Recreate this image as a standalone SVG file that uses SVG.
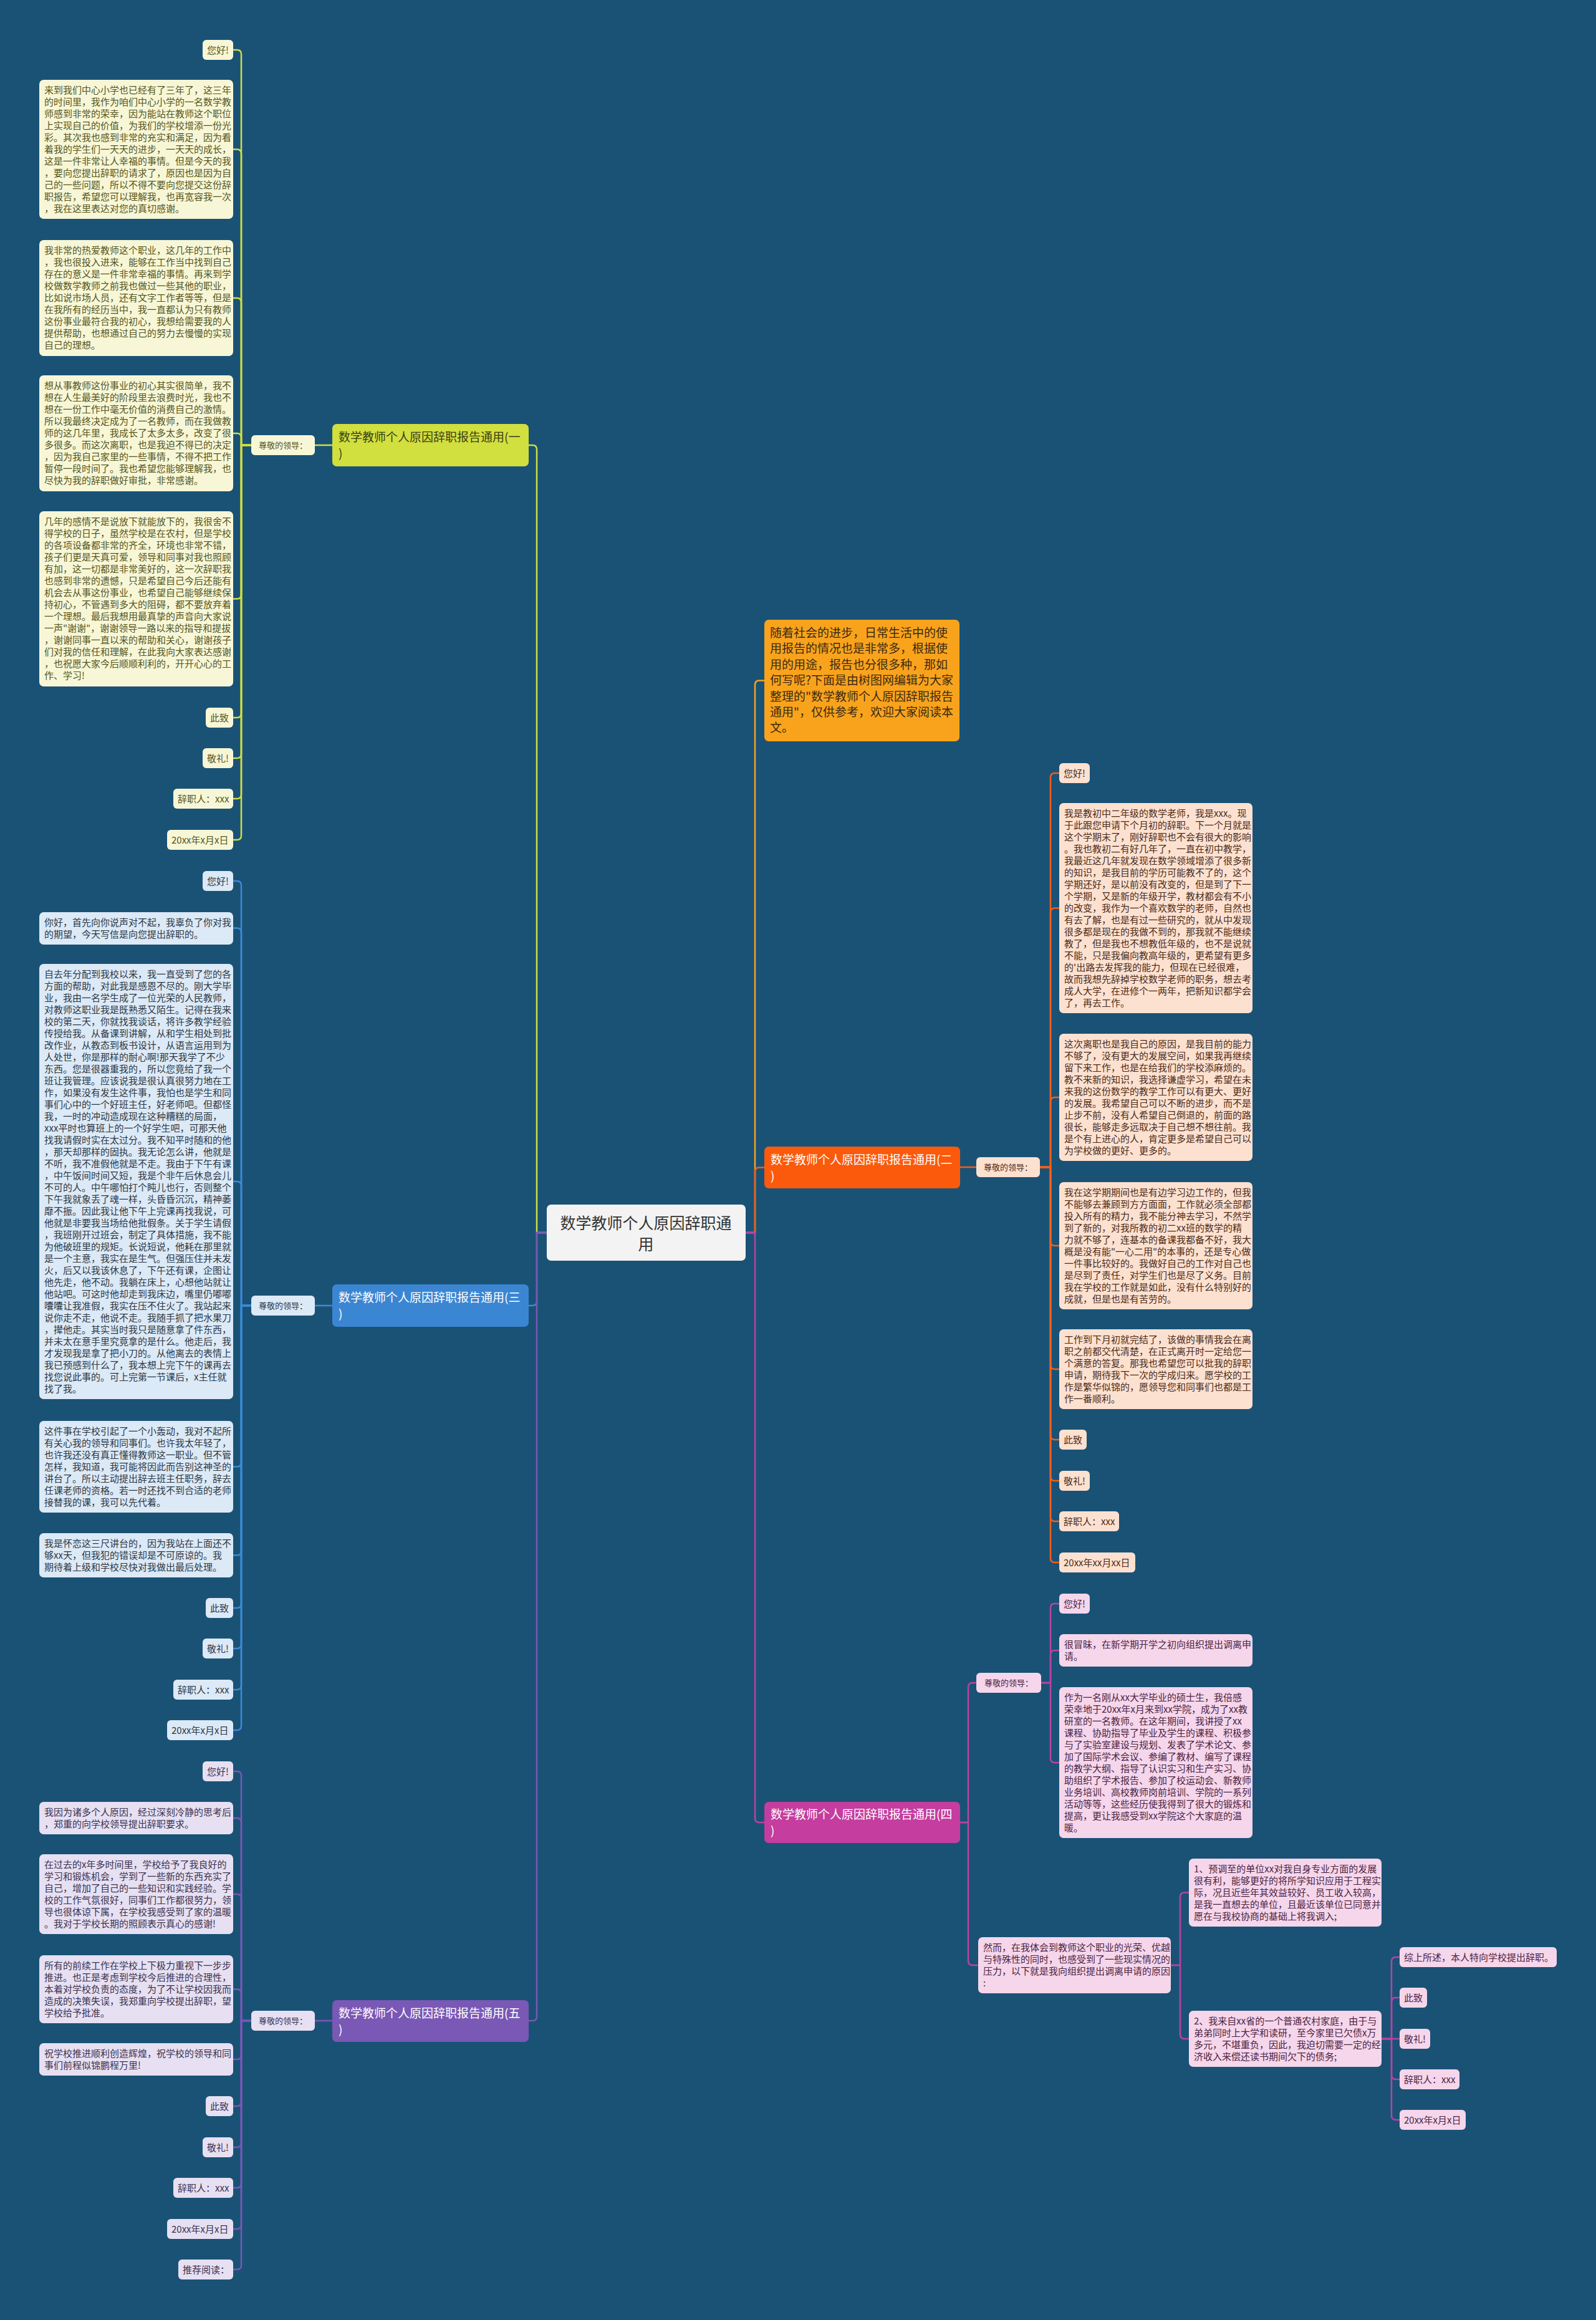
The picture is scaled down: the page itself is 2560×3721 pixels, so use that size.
<svg xmlns="http://www.w3.org/2000/svg" width="2560" height="3721" viewBox="0 0 2560 3721">
<style>
text{font-family:"Noto Sans CJK SC","Noto Sans",sans-serif}
.t{font-size:15px}
.s{font-size:13px;text-anchor:middle}
.h{font-size:19px}
.c{font-size:25px;text-anchor:middle;fill:#333}
.y rect{fill:#f7f7d7}.y text{fill:#55541c}
.b rect{fill:#dce9f6}.b text{fill:#2b3744}
.p rect{fill:#e6e0f2}.p text{fill:#3a3150}
.o rect{fill:#fde1d0}.o text{fill:#4a2a18}
.m rect{fill:#f5d6eb}.m text{fill:#4b2240}
#connectors path{fill:none;stroke-width:2.5}
.ly{stroke:#d1df3f}.lb{stroke:#3d8ad6}.lp{stroke:#7a58b5}.lo{stroke:#f9a31d}.lr{stroke:#f35f18}.lm{stroke:#b843a3}
</style>
<rect width="2560" height="3721" fill="#1a5276"/>
<g id="connectors">
<path class="ly" d="M877 1977H861V721Q861 714 854 714H848"/>
<path class="lb" d="M877 1977H861V2087Q861 2094 854 2094H848"/>
<path class="lp" d="M877 1977H861V3234Q861 3241 854 3241H848"/>
<path class="lo" d="M1196 1977H1211V1098.5Q1211 1091.5 1218 1091.5H1226"/>
<path class="lr" d="M1196 1977H1211V1879.5Q1211 1872.5 1218 1872.5H1226"/>
<path class="lm" d="M1196 1977H1211V2916Q1211 2923 1218 2923H1226"/>
<path class="ly" d="M533 714H505"/>
<path class="ly" d="M403 714H387V87Q387 80 380 80H374"/>
<path class="ly" d="M403 714H387V246.5Q387 239.5 380 239.5H374"/>
<path class="ly" d="M403 714H387V485Q387 478 380 478H374"/>
<path class="ly" d="M403 714H387V702Q387 695 380 695H374"/>
<path class="ly" d="M403 714H387V953.5Q387 960.5 380 960.5H374"/>
<path class="ly" d="M403 714H387V1144Q387 1151 380 1151H374"/>
<path class="ly" d="M403 714H387V1209Q387 1216 380 1216H374"/>
<path class="ly" d="M403 714H387V1274Q387 1281 380 1281H374"/>
<path class="ly" d="M403 714H387V1340Q387 1347 380 1347H374"/>
<path class="lb" d="M533 2094H505"/>
<path class="lb" d="M403 2094H387V1420Q387 1413 380 1413H374"/>
<path class="lb" d="M403 2094H387V1495.5Q387 1488.5 380 1488.5H374"/>
<path class="lb" d="M403 2094H387V1902Q387 1895 380 1895H374"/>
<path class="lb" d="M403 2094H387V2345.5Q387 2352.5 380 2352.5H374"/>
<path class="lb" d="M403 2094H387V2487.5Q387 2494.5 380 2494.5H374"/>
<path class="lb" d="M403 2094H387V2572Q387 2579 380 2579H374"/>
<path class="lb" d="M403 2094H387V2637Q387 2644 380 2644H374"/>
<path class="lb" d="M403 2094H387V2703Q387 2710 380 2710H374"/>
<path class="lb" d="M403 2094H387V2768Q387 2775 380 2775H374"/>
<path class="lp" d="M533 3241H505"/>
<path class="lp" d="M403 3241H387V2848Q387 2841 380 2841H374"/>
<path class="lp" d="M403 3241H387V2923Q387 2916 380 2916H374"/>
<path class="lp" d="M403 3241H387V3045Q387 3038 380 3038H374"/>
<path class="lp" d="M403 3241H387V3197.5Q387 3190.5 380 3190.5H374"/>
<path class="lp" d="M403 3241H387V3296Q387 3303 380 3303H374"/>
<path class="lp" d="M403 3241H387V3371Q387 3378 380 3378H374"/>
<path class="lp" d="M403 3241H387V3437Q387 3444 380 3444H374"/>
<path class="lp" d="M403 3241H387V3502Q387 3509 380 3509H374"/>
<path class="lp" d="M403 3241H387V3568Q387 3575 380 3575H374"/>
<path class="lp" d="M403 3241H387V3633Q387 3640 380 3640H374"/>
<path class="lr" d="M1540 1872H1566"/>
<path class="lr" d="M1668 1872H1685V1247Q1685 1240 1692 1240H1699"/>
<path class="lr" d="M1668 1872H1685V1463.5Q1685 1456.5 1692 1456.5H1699"/>
<path class="lr" d="M1668 1872H1685V1767Q1685 1760 1692 1760H1699"/>
<path class="lr" d="M1668 1872H1685V1991Q1685 1998 1692 1998H1699"/>
<path class="lr" d="M1668 1872H1685V2189Q1685 2196 1692 2196H1699"/>
<path class="lr" d="M1668 1872H1685V2302Q1685 2309 1692 2309H1699"/>
<path class="lr" d="M1668 1872H1685V2368Q1685 2375 1692 2375H1699"/>
<path class="lr" d="M1668 1872H1685V2433Q1685 2440 1692 2440H1699"/>
<path class="lr" d="M1668 1872H1685V2499Q1685 2506 1692 2506H1699"/>
<path class="lm" d="M1540 2923H1553V2706Q1553 2699 1560 2699H1566"/>
<path class="lm" d="M1540 2923H1553V3145Q1553 3152 1560 3152H1569"/>
<path class="lm" d="M1670 2699H1685V2579Q1685 2572 1692 2572H1699"/>
<path class="lm" d="M1670 2699H1685V2654Q1685 2647 1692 2647H1699"/>
<path class="lm" d="M1670 2699H1685V2820Q1685 2827 1692 2827H1699"/>
<path class="lm" d="M1878 3152H1893V3042.5Q1893 3035.5 1900 3035.5H1907"/>
<path class="lm" d="M1878 3152H1893V3263Q1893 3270 1900 3270H1907"/>
<path class="lm" d="M2216 3270H2232V3146Q2232 3139 2239 3139H2245"/>
<path class="lm" d="M2216 3270H2232V3211Q2232 3204 2239 3204H2245"/>
<path class="lm" d="M2216 3270H2245"/>
<path class="lm" d="M2216 3270H2232V3328Q2232 3335 2239 3335H2245"/>
<path class="lm" d="M2216 3270H2232V3393Q2232 3400 2239 3400H2245"/>
</g>

<g id="center"><rect x="877" y="1932" width="319" height="90" rx="7" fill="#f3f3f3"/><text class="c" x="1036" y="1971">数学教师个人原因辞职通</text><text class="c" x="1036" y="2005">用</text></g>

<g id="branch1"><rect x="533" y="680" width="315" height="68" rx="7" fill="#d1df3f"/><text class="h" fill="#3c3d10" x="543" y="708">数学教师个人原因辞职报告通用(一<tspan x="543" dy="26">)</tspan></text></g>
<g id="branch3"><rect x="533" y="2060" width="315" height="68" rx="7" fill="#3b86d3"/><text class="h" fill="#fff" x="543" y="2088">数学教师个人原因辞职报告通用(三<tspan x="543" dy="26">)</tspan></text></g>
<g id="branch5"><rect x="533" y="3208" width="315" height="67" rx="7" fill="#7a58b5"/><text class="h" fill="#fff" x="543" y="3236">数学教师个人原因辞职报告通用(五<tspan x="543" dy="26">)</tspan></text></g>
<g id="intro"><rect x="1226" y="994" width="313" height="195" rx="7" fill="#f9a31d"/><text class="h" fill="#3b2a10" x="1235" y="1022">随着社会的进步，日常生活中的使<tspan x="1235" dy="25.4">用报告的情况也是非常多，根据使</tspan><tspan x="1235" dy="25.4">用的用途，报告也分很多种，那如</tspan><tspan x="1235" dy="25.4">何写呢?下面是由树图网编辑为大家</tspan><tspan x="1235" dy="25.4">整理的"数学教师个人原因辞职报告</tspan><tspan x="1235" dy="25.4">通用"，仅供参考，欢迎大家阅读本</tspan><tspan x="1235" dy="25.4">文。</tspan></text></g>
<g id="branch2"><rect x="1226" y="1839" width="314" height="67" rx="7" fill="#fb5a0c"/><text class="h" fill="#fff" x="1236" y="1867">数学教师个人原因辞职报告通用(二<tspan x="1236" dy="26">)</tspan></text></g>
<g id="branch4"><rect x="1226" y="2890" width="314" height="66" rx="7" fill="#c43d9f"/><text class="h" fill="#fff" x="1236" y="2917">数学教师个人原因辞职报告通用(四<tspan x="1236" dy="26">)</tspan></text></g>

<g class="y">
<g id="b1-lead"><rect x="403" y="698" width="102" height="32" rx="6"/><text class="s" x="454" y="719">尊敬的领导：</text></g>
<g id="b1-hello"><rect x="325" y="64" width="49" height="32" rx="6"/><text class="t" x="332" y="85.5">您好!</text></g>
<g id="b1-p1"><rect x="63" y="128" width="311" height="223" rx="7"/><text class="t" x="71" y="150">来到我们中心小学也已经有了三年了，这三年<tspan x="71" dy="19">的时间里，我作为咱们中心小学的一名数学教</tspan><tspan x="71" dy="19">师感到非常的荣幸，因为能站在教师这个职位</tspan><tspan x="71" dy="19">上实现自己的价值，为我们的学校增添一份光</tspan><tspan x="71" dy="19">彩。其次我也感到非常的充实和满足，因为看</tspan><tspan x="71" dy="19">着我的学生们一天天的进步，一天天的成长，</tspan><tspan x="71" dy="19">这是一件非常让人幸福的事情。但是今天的我</tspan><tspan x="71" dy="19">，要向您提出辞职的请求了，原因也是因为自</tspan><tspan x="71" dy="19">己的一些问题，所以不得不要向您提交这份辞</tspan><tspan x="71" dy="19">职报告，希望您可以理解我，也再宽容我一次</tspan><tspan x="71" dy="19">，我在这里表达对您的真切感谢。</tspan></text></g>
<g id="b1-p2"><rect x="63" y="385" width="311" height="186" rx="7"/><text class="t" x="71" y="407">我非常的热爱教师这个职业，这几年的工作中<tspan x="71" dy="19">，我也很投入进来，能够在工作当中找到自己</tspan><tspan x="71" dy="19">存在的意义是一件非常幸福的事情。再来到学</tspan><tspan x="71" dy="19">校做数学教师之前我也做过一些其他的职业，</tspan><tspan x="71" dy="19">比如说市场人员，还有文字工作者等等，但是</tspan><tspan x="71" dy="19">在我所有的经历当中，我一直都认为只有教师</tspan><tspan x="71" dy="19">这份事业最符合我的初心，我想给需要我的人</tspan><tspan x="71" dy="19">提供帮助，也想通过自己的努力去慢慢的实现</tspan><tspan x="71" dy="19">自己的理想。</tspan></text></g>
<g id="b1-p3"><rect x="63" y="602" width="311" height="186" rx="7"/><text class="t" x="71" y="624">想从事教师这份事业的初心其实很简单，我不<tspan x="71" dy="19">想在人生最美好的阶段里去浪费时光，我也不</tspan><tspan x="71" dy="19">想在一份工作中毫无价值的消费自己的激情。</tspan><tspan x="71" dy="19">所以我最终决定成为了一名教师，而在我做教</tspan><tspan x="71" dy="19">师的这几年里，我成长了太多太多，改变了很</tspan><tspan x="71" dy="19">多很多。而这次离职，也是我迫不得已的决定</tspan><tspan x="71" dy="19">，因为我自己家里的一些事情，不得不把工作</tspan><tspan x="71" dy="19">暂停一段时间了。我也希望您能够理解我，也</tspan><tspan x="71" dy="19">尽快为我的辞职做好审批，非常感谢。</tspan></text></g>
<g id="b1-p4"><rect x="63" y="820" width="311" height="281" rx="7"/><text class="t" x="71" y="842">几年的感情不是说放下就能放下的，我很舍不<tspan x="71" dy="19">得学校的日子，虽然学校是在农村，但是学校</tspan><tspan x="71" dy="19">的各项设备都非常的齐全，环境也非常不错，</tspan><tspan x="71" dy="19">孩子们更是天真可爱，领导和同事对我也照顾</tspan><tspan x="71" dy="19">有加，这一切都是非常美好的，这一次辞职我</tspan><tspan x="71" dy="19">也感到非常的遗憾，只是希望自己今后还能有</tspan><tspan x="71" dy="19">机会去从事这份事业，也希望自己能够继续保</tspan><tspan x="71" dy="19">持初心，不管遇到多大的阻碍，都不要放弃着</tspan><tspan x="71" dy="19">一个理想。最后我想用最真挚的声音向大家说</tspan><tspan x="71" dy="19">一声"谢谢"，谢谢领导一路以来的指导和提拔</tspan><tspan x="71" dy="19">，谢谢同事一直以来的帮助和关心，谢谢孩子</tspan><tspan x="71" dy="19">们对我的信任和理解，在此我向大家表达感谢</tspan><tspan x="71" dy="19">，也祝愿大家今后顺顺利利的，开开心心的工</tspan><tspan x="71" dy="19">作、学习!</tspan></text></g>
<g id="b1-zhi"><rect x="330" y="1135" width="44" height="32" rx="6"/><text class="t" x="337" y="1156.5">此致</text></g>
<g id="b1-li"><rect x="325" y="1200" width="49" height="32" rx="6"/><text class="t" x="332" y="1221.5">敬礼!</text></g>
<g id="b1-name"><rect x="278" y="1265" width="96" height="32" rx="6"/><text class="t" x="285" y="1286.5">辞职人：xxx</text></g>
<g id="b1-date"><rect x="268" y="1331" width="106" height="32" rx="6"/><text class="t" x="275" y="1352.5">20xx年x月x日</text></g>
</g>

<g class="b">
<g id="b3-lead"><rect x="403" y="2078" width="102" height="32" rx="6"/><text class="s" x="454" y="2099">尊敬的领导：</text></g>
<g id="b3-hello"><rect x="325" y="1397" width="49" height="32" rx="6"/><text class="t" x="332" y="1418.5">您好!</text></g>
<g id="b3-p1"><rect x="63" y="1463" width="311" height="52" rx="7"/><text class="t" x="71" y="1485">你好，首先向你说声对不起，我辜负了你对我<tspan x="71" dy="19">的期望，今天写信是向您提出辞职的。</tspan></text></g>
<g id="b3-p2"><rect x="63" y="1546" width="311" height="698" rx="7"/><text class="t" x="71" y="1568">自去年分配到我校以来，我一直受到了您的各<tspan x="71" dy="19">方面的帮助，对此我是感恩不尽的。刚大学毕</tspan><tspan x="71" dy="19">业，我由一名学生成了一位光荣的人民教师，</tspan><tspan x="71" dy="19">对教师这职业我是既熟悉又陌生。记得在我来</tspan><tspan x="71" dy="19">校的第二天，你就找我谈话，将许多教学经验</tspan><tspan x="71" dy="19">传授给我。从备课到讲解，从和学生相处到批</tspan><tspan x="71" dy="19">改作业，从教态到板书设计，从语言运用到为</tspan><tspan x="71" dy="19">人处世，你是那样的耐心啊!那天我学了不少</tspan><tspan x="71" dy="19">东西。您是很器重我的，所以您竟给了我一个</tspan><tspan x="71" dy="19">班让我管理。应该说我是很认真很努力地在工</tspan><tspan x="71" dy="19">作，如果没有发生这件事，我怕也是学生和同</tspan><tspan x="71" dy="19">事们心中的一个好班主任，好老师吧。但都怪</tspan><tspan x="71" dy="19">我，一时的冲动造成现在这种糟糕的局面，</tspan><tspan x="71" dy="19">xxx平时也算班上的一个好学生吧，可那天他</tspan><tspan x="71" dy="19">找我请假时实在太过分。我不知平时随和的他</tspan><tspan x="71" dy="19">，那天却那样的固执。我无论怎么讲，他就是</tspan><tspan x="71" dy="19">不听，我不准假他就是不走。我由于下午有课</tspan><tspan x="71" dy="19">，中午饭间时间又短，我是个非午后休息会儿</tspan><tspan x="71" dy="19">不可的人。中午哪怕打个盹儿也行，否则整个</tspan><tspan x="71" dy="19">下午我就象丢了魂一样，头昏昏沉沉，精神萎</tspan><tspan x="71" dy="19">靡不振。因此我让他下午上完课再找我说，可</tspan><tspan x="71" dy="19">他就是非要我当场给他批假条。关于学生请假</tspan><tspan x="71" dy="19">，我班刚开过班会，制定了具体措施，我不能</tspan><tspan x="71" dy="19">为他破班里的规矩。长说短说，他耗在那里就</tspan><tspan x="71" dy="19">是一个主意，我实在是生气。但强压住并未发</tspan><tspan x="71" dy="19">火，后又以我该休息了，下午还有课，企图让</tspan><tspan x="71" dy="19">他先走，他不动。我躺在床上，心想他站就让</tspan><tspan x="71" dy="19">他站吧。可这时他却走到我床边，嘴里仍嘟嘟</tspan><tspan x="71" dy="19">囔囔让我准假，我实在压不住火了。我站起来</tspan><tspan x="71" dy="19">说你走不走，他说不走。我随手抓了把水果刀</tspan><tspan x="71" dy="19">，撵他走。其实当时我只是随意拿了件东西，</tspan><tspan x="71" dy="19">并未太在意手里究竟拿的是什么。他走后，我</tspan><tspan x="71" dy="19">才发现我是拿了把小刀的。从他离去的表情上</tspan><tspan x="71" dy="19">我已预感到什么了，我本想上完下午的课再去</tspan><tspan x="71" dy="19">找您说此事的。可上完第一节课后，x主任就</tspan><tspan x="71" dy="19">找了我。</tspan></text></g>
<g id="b3-p3"><rect x="63" y="2279" width="311" height="147" rx="7"/><text class="t" x="71" y="2301">这件事在学校引起了一个小轰动，我对不起所<tspan x="71" dy="19">有关心我的领导和同事们。也许我太年轻了，</tspan><tspan x="71" dy="19">也许我还没有真正懂得教师这一职业。但不管</tspan><tspan x="71" dy="19">怎样，我知道，我可能将因此而告别这神圣的</tspan><tspan x="71" dy="19">讲台了。所以主动提出辞去班主任职务，辞去</tspan><tspan x="71" dy="19">任课老师的资格。若一时还找不到合适的老师</tspan><tspan x="71" dy="19">接替我的课，我可以先代着。</tspan></text></g>
<g id="b3-p4"><rect x="63" y="2459" width="311" height="71" rx="7"/><text class="t" x="71" y="2481">我是怀恋这三尺讲台的，因为我站在上面还不<tspan x="71" dy="19">够xx天，但我犯的错误却是不可原谅的。我</tspan><tspan x="71" dy="19">期待着上级和学校尽快对我做出最后处理。</tspan></text></g>
<g id="b3-zhi"><rect x="330" y="2563" width="44" height="32" rx="6"/><text class="t" x="337" y="2584.5">此致</text></g>
<g id="b3-li"><rect x="325" y="2628" width="49" height="32" rx="6"/><text class="t" x="332" y="2649.5">敬礼!</text></g>
<g id="b3-name"><rect x="278" y="2694" width="96" height="32" rx="6"/><text class="t" x="285" y="2715.5">辞职人：xxx</text></g>
<g id="b3-date"><rect x="268" y="2759" width="106" height="32" rx="6"/><text class="t" x="275" y="2780.5">20xx年x月x日</text></g>
</g>

<g class="p">
<g id="b5-lead"><rect x="403" y="3225" width="102" height="32" rx="6"/><text class="s" x="454" y="3246">尊敬的领导：</text></g>
<g id="b5-hello"><rect x="325" y="2825" width="49" height="32" rx="6"/><text class="t" x="332" y="2846.5">您好!</text></g>
<g id="b5-p1"><rect x="63" y="2890" width="311" height="52" rx="7"/><text class="t" x="71" y="2912">我因为诸多个人原因，经过深刻冷静的思考后<tspan x="71" dy="19">，郑重的向学校领导提出辞职要求。</tspan></text></g>
<g id="b5-p2"><rect x="63" y="2974" width="311" height="128" rx="7"/><text class="t" x="71" y="2996">在过去的x年多时间里，学校给予了我良好的<tspan x="71" dy="19">学习和锻炼机会，学到了一些新的东西充实了</tspan><tspan x="71" dy="19">自己，增加了自己的一些知识和实践经验。学</tspan><tspan x="71" dy="19">校的工作气氛很好，同事们工作都很努力，领</tspan><tspan x="71" dy="19">导也很体谅下属，在学校我感受到了家的温暖</tspan><tspan x="71" dy="19">。我对于学校长期的照顾表示真心的感谢!</tspan></text></g>
<g id="b5-p3"><rect x="63" y="3136" width="311" height="109" rx="7"/><text class="t" x="71" y="3158">所有的前续工作在学校上下极力重视下一步步<tspan x="71" dy="19">推进。也正是考虑到学校今后推进的合理性，</tspan><tspan x="71" dy="19">本着对学校负责的态度，为了不让学校因我而</tspan><tspan x="71" dy="19">造成的决策失误，我郑重向学校提出辞职，望</tspan><tspan x="71" dy="19">学校给予批准。</tspan></text></g>
<g id="b5-p4"><rect x="63" y="3277" width="311" height="52" rx="7"/><text class="t" x="71" y="3299">祝学校推进顺利创造辉煌，祝学校的领导和同<tspan x="71" dy="19">事们前程似锦鹏程万里!</tspan></text></g>
<g id="b5-zhi"><rect x="330" y="3362" width="44" height="32" rx="6"/><text class="t" x="337" y="3383.5">此致</text></g>
<g id="b5-li"><rect x="325" y="3428" width="49" height="32" rx="6"/><text class="t" x="332" y="3449.5">敬礼!</text></g>
<g id="b5-name"><rect x="278" y="3493" width="96" height="32" rx="6"/><text class="t" x="285" y="3514.5">辞职人：xxx</text></g>
<g id="b5-date"><rect x="268" y="3559" width="106" height="32" rx="6"/><text class="t" x="275" y="3580.5">20xx年x月x日</text></g>
<g id="b5-more"><rect x="286" y="3624" width="88" height="32" rx="6"/><text class="t" x="293" y="3645.5">推荐阅读：</text></g>
</g>

<g class="o">
<g id="b2-lead"><rect x="1566" y="1856" width="102" height="32" rx="6"/><text class="s" x="1617" y="1877">尊敬的领导：</text></g>
<g id="b2-hello"><rect x="1699" y="1224" width="49" height="32" rx="6"/><text class="t" x="1706" y="1245.5">您好!</text></g>
<g id="b2-p1"><rect x="1699" y="1288" width="310" height="337" rx="7"/><text class="t" x="1707" y="1310">我是教初中二年级的数学老师，我是xxx。现<tspan x="1707" dy="19">于此跟您申请下个月初的辞职。下一个月就是</tspan><tspan x="1707" dy="19">这个学期末了，刚好辞职也不会有很大的影响</tspan><tspan x="1707" dy="19">。我也教初二有好几年了，一直在初中教学，</tspan><tspan x="1707" dy="19">我最近这几年就发现在数学领域增添了很多新</tspan><tspan x="1707" dy="19">的知识，是我目前的学历可能教不了的，这个</tspan><tspan x="1707" dy="19">学期还好，是以前没有改变的，但是到了下一</tspan><tspan x="1707" dy="19">个学期，又是新的年级开学，教材都会有不小</tspan><tspan x="1707" dy="19">的改变，我作为一个喜欢数学的老师，自然也</tspan><tspan x="1707" dy="19">有去了解，也是有过一些研究的，就从中发现</tspan><tspan x="1707" dy="19">很多都是现在的我做不到的，那我就不能继续</tspan><tspan x="1707" dy="19">教了，但是我也不想教低年级的，也不是说就</tspan><tspan x="1707" dy="19">不能，只是我偏向教高年级的，更希望有更多</tspan><tspan x="1707" dy="19">的'出路去发挥我的能力，但现在已经很难，</tspan><tspan x="1707" dy="19">故而我想先辞掉学校数学老师的职务，想去考</tspan><tspan x="1707" dy="19">成人大学，在进修个一两年，把新知识都学会</tspan><tspan x="1707" dy="19">了，再去工作。</tspan></text></g>
<g id="b2-p2"><rect x="1699" y="1658" width="310" height="204" rx="7"/><text class="t" x="1707" y="1680">这次离职也是我自己的原因，是我目前的能力<tspan x="1707" dy="19">不够了，没有更大的发展空间，如果我再继续</tspan><tspan x="1707" dy="19">留下来工作，也是在给我们的学校添麻烦的。</tspan><tspan x="1707" dy="19">教不来新的知识，我选择谦虚学习，希望在未</tspan><tspan x="1707" dy="19">来我的这份数学的教学工作可以有更大、更好</tspan><tspan x="1707" dy="19">的发展。我希望自己可以不断的进步，而不是</tspan><tspan x="1707" dy="19">止步不前，没有人希望自己倒退的，前面的路</tspan><tspan x="1707" dy="19">很长，能够走多远取决于自己想不想往前。我</tspan><tspan x="1707" dy="19">是个有上进心的人，肯定更多是希望自己可以</tspan><tspan x="1707" dy="19">为学校做的更好、更多的。</tspan></text></g>
<g id="b2-p3"><rect x="1699" y="1896" width="310" height="204" rx="7"/><text class="t" x="1707" y="1918">我在这学期期间也是有边学习边工作的，但我<tspan x="1707" dy="19">不能够去兼顾到方方面面，工作就必须全部都</tspan><tspan x="1707" dy="19">投入所有的精力，我不能分神去学习，不然学</tspan><tspan x="1707" dy="19">到了新的，对我所教的初二xx班的数学的精</tspan><tspan x="1707" dy="19">力就不够了，连基本的备课我都备不好，我大</tspan><tspan x="1707" dy="19">概是没有能"一心二用"的本事的，还是专心做</tspan><tspan x="1707" dy="19">一件事比较好的。我做好自己的工作对自己也</tspan><tspan x="1707" dy="19">是尽到了责任，对学生们也是尽了义务。目前</tspan><tspan x="1707" dy="19">我在学校的工作就是如此，没有什么特别好的</tspan><tspan x="1707" dy="19">成就，但是也是有苦劳的。</tspan></text></g>
<g id="b2-p4"><rect x="1699" y="2132" width="310" height="128" rx="7"/><text class="t" x="1707" y="2154">工作到下月初就完结了，该做的事情我会在离<tspan x="1707" dy="19">职之前都交代清楚，在正式离开时一定给您一</tspan><tspan x="1707" dy="19">个满意的答复。那我也希望您可以批我的辞职</tspan><tspan x="1707" dy="19">申请，期待我下一次的学成归来。愿学校的工</tspan><tspan x="1707" dy="19">作是繁华似锦的，愿领导您和同事们也都是工</tspan><tspan x="1707" dy="19">作一番顺利。</tspan></text></g>
<g id="b2-zhi"><rect x="1699" y="2293" width="44" height="32" rx="6"/><text class="t" x="1706" y="2314.5">此致</text></g>
<g id="b2-li"><rect x="1699" y="2359" width="49" height="32" rx="6"/><text class="t" x="1706" y="2380.5">敬礼!</text></g>
<g id="b2-name"><rect x="1699" y="2424" width="96" height="32" rx="6"/><text class="t" x="1706" y="2445.5">辞职人：xxx</text></g>
<g id="b2-date"><rect x="1699" y="2490" width="122" height="32" rx="6"/><text class="t" x="1706" y="2511.5">20xx年xx月xx日</text></g>
</g>

<g class="m">
<g id="b4-lead"><rect x="1566" y="2683" width="104" height="32" rx="6"/><text class="s" x="1618" y="2704">尊敬的领导：</text></g>
<g id="b4-hello"><rect x="1699" y="2556" width="49" height="32" rx="6"/><text class="t" x="1706" y="2577.5">您好!</text></g>
<g id="b4-p1"><rect x="1699" y="2621" width="310" height="52" rx="7"/><text class="t" x="1707" y="2643">很冒昧，在新学期开学之初向组织提出调离申<tspan x="1707" dy="19">请。</tspan></text></g>
<g id="b4-p2"><rect x="1699" y="2706" width="310" height="242" rx="7"/><text class="t" x="1707" y="2728">作为一名刚从xx大学毕业的硕士生，我倍感<tspan x="1707" dy="19">荣幸地于20xx年x月来到xx学院，成为了xx教</tspan><tspan x="1707" dy="19">研室的一名教师。在这年期间，我讲授了xx</tspan><tspan x="1707" dy="19">课程、协助指导了毕业及学生的课程、积极参</tspan><tspan x="1707" dy="19">与了实验室建设与规划、发表了学术论文、参</tspan><tspan x="1707" dy="19">加了国际学术会议、参编了教材、编写了课程</tspan><tspan x="1707" dy="19">的教学大纲、指导了认识实习和生产实习、协</tspan><tspan x="1707" dy="19">助组织了学术报告、参加了校运动会、新教师</tspan><tspan x="1707" dy="19">业务培训、高校教师岗前培训、学院的一系列</tspan><tspan x="1707" dy="19">活动等等，这些经历使我得到了很大的锻炼和</tspan><tspan x="1707" dy="19">提高，更让我感受到xx学院这个大家庭的温</tspan><tspan x="1707" dy="19">暖。</tspan></text></g>
<g id="b4-however"><rect x="1569" y="3107" width="309" height="90" rx="7"/><text class="t" x="1577" y="3129">然而，在我体会到教师这个职业的光荣、优越<tspan x="1577" dy="19">与特殊性的同时，也感受到了一些现实情况的</tspan><tspan x="1577" dy="19">压力，以下就是我向组织提出调离申请的原因</tspan><tspan x="1577" dy="19">:</tspan></text></g>
<g id="b4-r1"><rect x="1907" y="2981" width="309" height="109" rx="7"/><text class="t" x="1915" y="3003">1、预调至的单位xx对我自身专业方面的发展<tspan x="1915" dy="19">很有利，能够更好的将所学知识应用于工程实</tspan><tspan x="1915" dy="19">际，况且近些年其效益较好、员工收入较高，</tspan><tspan x="1915" dy="19">是我一直想去的单位，且最近该单位已同意并</tspan><tspan x="1915" dy="19">愿在与我校协商的基础上将我调入;</tspan></text></g>
<g id="b4-r2"><rect x="1907" y="3225" width="309" height="90" rx="7"/><text class="t" x="1915" y="3247">2、我来自xx省的一个普通农村家庭，由于与<tspan x="1915" dy="19">弟弟同时上大学和读研，至今家里已欠债x万</tspan><tspan x="1915" dy="19">多元，不堪重负，因此，我迫切需要一定的经</tspan><tspan x="1915" dy="19">济收入来偿还读书期间欠下的债务;</tspan></text></g>
<g id="b4-sum"><rect x="2245" y="3123" width="252" height="32" rx="6"/><text class="t" x="2252" y="3144.5">综上所述，本人特向学校提出辞职。</text></g>
<g id="b4-zhi"><rect x="2245" y="3188" width="44" height="32" rx="6"/><text class="t" x="2252" y="3209.5">此致</text></g>
<g id="b4-li"><rect x="2245" y="3254" width="49" height="32" rx="6"/><text class="t" x="2252" y="3275.5">敬礼!</text></g>
<g id="b4-name"><rect x="2245" y="3319" width="96" height="32" rx="6"/><text class="t" x="2252" y="3340.5">辞职人：xxx</text></g>
<g id="b4-date"><rect x="2245" y="3384" width="106" height="32" rx="6"/><text class="t" x="2252" y="3405.5">20xx年x月x日</text></g>
</g>
</svg>
